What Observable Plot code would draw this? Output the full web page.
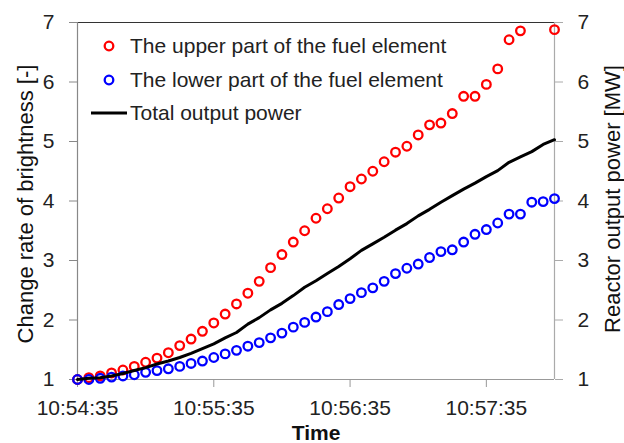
<!DOCTYPE html>
<html><head><meta charset="utf-8">
<script src="https://cdn.jsdelivr.net/npm/d3@7"></script>
<script src="https://cdn.jsdelivr.net/npm/@observablehq/plot@0.6"></script>
<style>
body{margin:0;background:#fff;font-family:"Liberation Sans",Arial,sans-serif}
#wrap{position:relative;width:624px;height:443px}
.leg{position:absolute;left:0;top:0;font-size:21px;color:#222;line-height:24px}
.leg .row{position:absolute;white-space:nowrap}
</style></head><body><div id="wrap"></div>
<script>
const startTime = "10:54:35";
const seconds = [0,5,10,15,20,25,30,35,40,45,50,55,60,65,70,75,80,85,90,95,100,105,110,115,120,125,130,135,140,145,150,155,160,165,170,175,180,185,190,195,200,205,210];
const upperPart = [1.00,1.03,1.06,1.11,1.16,1.22,1.29,1.36,1.45,1.57,1.68,1.81,1.95,2.10,2.27,2.45,2.65,2.88,3.10,3.31,3.50,3.71,3.87,4.05,4.24,4.37,4.50,4.66,4.82,4.92,5.11,5.28,5.31,5.47,5.76,5.76,5.96,6.22,6.71,6.86,null,null,6.88];
const lowerPart = [1.00,1.00,1.02,1.04,1.06,1.08,1.12,1.15,1.18,1.22,1.27,1.31,1.37,1.43,1.49,1.56,1.62,1.70,1.78,1.88,1.96,2.05,2.14,2.26,2.36,2.46,2.54,2.65,2.78,2.87,2.94,3.05,3.15,3.18,3.31,3.44,3.52,3.63,3.78,3.78,3.98,3.99,4.04];
const totalPower = [1.00,1.02,1.03,1.06,1.10,1.15,1.20,1.26,1.31,1.37,1.44,1.52,1.60,1.70,1.79,1.93,2.04,2.17,2.28,2.41,2.55,2.66,2.78,2.90,3.03,3.17,3.28,3.39,3.51,3.62,3.75,3.86,3.98,4.09,4.20,4.30,4.41,4.51,4.65,4.74,4.83,4.95,5.03];
const xTickLabels = ["10:54:35","10:55:35","10:56:35","10:57:35"];
const xEndSeconds = 210;
const yTicks = [1,2,3,4,5,6,7];
const seriesNames = ["The upper part of the fuel element","The lower part of the fuel element","Total output power"];
const axisTitles = {left:"Change rate of brightness [-]", right:"Reactor output power [MW]", bottom:"Time"};

const parseT = s => { const [h,m,sec] = s.split(":").map(Number); return new Date(Date.UTC(2000,0,1,h,m,sec)); };
const t0 = parseT(startTime);
const toDate = s => new Date(+t0 + s*1000);
const rows = seconds.map((s,i)=>({t:toDate(s), upper:upperPart[i], lower:lowerPart[i], power:totalPower[i]}));
const fmt = d3.utcFormat("%H:%M:%S");

const chart = Plot.plot({
  width:624, height:443,
  marginLeft:77, marginRight:70, marginTop:22, marginBottom:64,
  style:{fontFamily:"'Liberation Sans', Arial, sans-serif", fontSize:"21px", background:"#fff"},
  x:{type:"utc", domain:[t0, toDate(xEndSeconds)]},
  y:{domain:[1,7]},
  marks:[
    Plot.ruleY([7], {stroke:"#333", strokeWidth:1.2}),
    Plot.ruleY([1], {stroke:"#999", strokeWidth:1.2}),
    Plot.ruleX([t0], {stroke:"#888", strokeWidth:1.2}),
    Plot.ruleX([toDate(xEndSeconds)], {stroke:"#aaa", strokeWidth:1.2}),
    Plot.axisY({anchor:"left", ticks:yTicks, tickFormat:d=>String(d), tickSize:8, tickPadding:15, stroke:"#888", fill:"#222", label:null}),
    Plot.axisY({anchor:"right", ticks:yTicks, tickFormat:d=>String(d), tickSize:8, tickPadding:15, stroke:"#aaa", fill:"#222", label:null}),
    Plot.axisX({ticks:xTickLabels.map(parseT), tickFormat:fmt, tickSize:8, tickPadding:13, stroke:"#999", fill:"#222", label:null}),
    Plot.text([axisTitles.left], {frameAnchor:"left", textAnchor:"middle", lineAnchor:"middle", dx:-52, dy:3, rotate:-90, fontSize:22, fill:"#111"}),
    Plot.text([axisTitles.right], {frameAnchor:"right", textAnchor:"middle", lineAnchor:"middle", dx:58, dy:-2, rotate:-90, fontSize:22, fill:"#111"}),
    Plot.text([axisTitles.bottom], {frameAnchor:"bottom", lineAnchor:"middle", dy:54, fontSize:21, fontWeight:"bold", fill:"#111"}),
    Plot.dot(rows.filter(d=>d.upper!=null), {x:"t", y:"upper", r:4.3, stroke:"#ff0000", strokeWidth:2.3, fill:"none"}),
    Plot.dot(rows, {x:"t", y:"lower", r:4.3, stroke:"#0000ff", strokeWidth:2.3, fill:"none"}),
    Plot.line(rows, {x:"t", y:"power", stroke:"#000", strokeWidth:3, curve:"linear"})
  ]
});
const wrap = document.getElementById("wrap");
wrap.appendChild(chart);

const leg = document.createElement("div");
leg.className = "leg";
leg.innerHTML = `
<svg width="140" height="130" style="position:absolute;left:0;top:0;overflow:visible">
  <circle cx="109" cy="46" r="4.3" fill="none" stroke="#ff0000" stroke-width="2.3"/>
  <circle cx="109" cy="80" r="4.3" fill="none" stroke="#0000ff" stroke-width="2.3"/>
  <line x1="91" x2="127" y1="113" y2="113" stroke="#000" stroke-width="3"/>
</svg>
<div class="row" style="left:130px;top:34px">${seriesNames[0]}</div>
<div class="row" style="left:130px;top:68px">${seriesNames[1]}</div>
<div class="row" style="left:130px;top:101px">${seriesNames[2]}</div>`;
wrap.appendChild(leg);
</script>
</body></html>
